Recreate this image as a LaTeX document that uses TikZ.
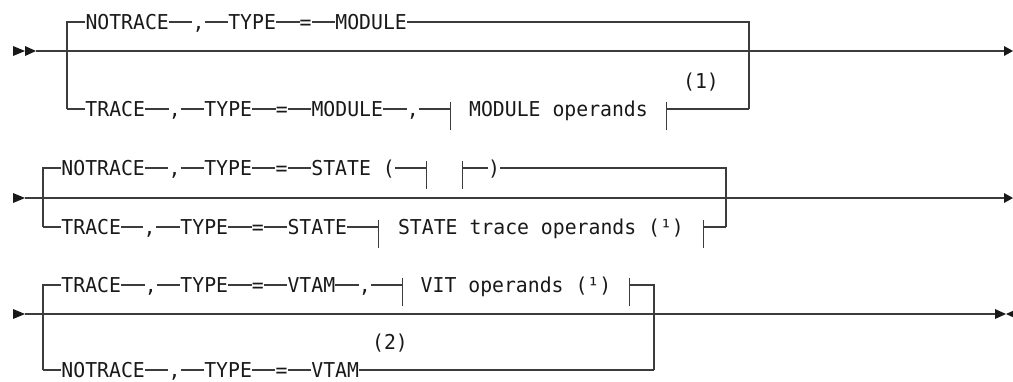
\documentclass[tikz,border=0pt]{standalone}
\usepackage{fontspec}
\usepackage{xcolor}
\usepackage{tikz}
\usetikzlibrary{positioning}
\newfontfamily\railfont[FakeStretch=0.965]{DejaVu Sans Mono}
\definecolor{railink}{RGB}{60,60,60}
\definecolor{kwink}{RGB}{25,25,25}
\tikzset{
  tok/.style={inner sep=0pt,text height=15pt,text depth=0pt,text=kwink},
  opbox/.style={tok,minimum width=#1},
  rail/.style={draw=railink,line width=1.1pt},
  head/.style={fill=kwink},
}

\begin{document}
\begin{tikzpicture}[x=1pt,y=-1pt,font=\railfont\fontsize{20.5}{24}\selectfont]
  \useasboundingbox (0,0) rectangle (1013,381);
  % main lines
  \coordinate (m1s) at (36,51);   \coordinate (m1e) at (1004,51);
  \coordinate (m2s) at (25,198);  \coordinate (m2e) at (1004,198);
  \coordinate (m3s) at (25,314);  \coordinate (m3e) at (995,314);
  \draw[rail] (m1s) -- (m1e);
  \draw[rail] (m2s) -- (m2e);
  \draw[rail] (m3s) -- (m3e);
  \fill[head] (13,46) -- (25,51) -- (13,56) -- cycle
              (25,46) -- (36,51) -- (25,56) -- cycle
              (1004,46) -- (1013,51) -- (1004,56) -- cycle;
  \fill[head] (13,193) -- (25,198) -- (13,203) -- cycle
              (1004,193) -- (1013,198) -- (1004,203) -- cycle;
  \fill[head] (13,309) -- (25,314) -- (13,319) -- cycle
              (995,309) -- (1006,314) -- (995,319) -- cycle
              (1017,309) -- (1006,314) -- (1017,319) -- cycle;

  % row 1
  \coordinate (l1t) at (67,22);  \coordinate (l1b) at (67,109);
  \coordinate (r1t) at (749,22); \coordinate (r1b) at (749,109);
  \foreach \n/\x/\t in {a1/127.2/NOTRACE, a2/198.6/{,}, a3/252.1/TYPE,
                        a4/305.7/{=}, a5/371.1/MODULE}
    \node[tok] (\n) at (\x,22) {\t};
  \foreach \n/\x/\t in {b1/115.25/TRACE, b2/174.75/{,}, b3/228.3/TYPE,
                        b4/281.9/{=}, b5/347.3/MODULE, b6/412.75/{,}}
    \node[tok] (\n) at (\x,109) {\t};
  \node[opbox=215pt] (bo) at (558.5,109) {MODULE operands};
  \node[tok] (n1) at (701,81) {(1)};
  \draw[rail] (l1b) -- (l1t) -- (a1) -- (a2) -- (a3) -- (a4) -- (a5) -- (r1t) -- (r1b);
  \draw[rail] (l1b) -- (b1) -- (b2) -- (b3) -- (b4) -- (b5) -- (b6) -- (bo) -- (r1b);

  % row 2
  \coordinate (l2t) at (43,168);  \coordinate (l2b) at (43,227);
  \coordinate (r2t) at (726,168); \coordinate (r2b) at (726,227);
  \foreach \n/\x/\t in {c1/103.15/NOTRACE, c2/174.55/{,}, c3/228.1/TYPE,
                        c4/281.65/{=}, c5/353.05/{STATE (}, c6/494/{)}}
    \node[tok] (\n) at (\x,168) {\t};
  \node[opbox=36pt] (co) at (444.7,168) {};
  \foreach \n/\x/\t in {d1/91.25/TRACE, d2/149.5/{,}, d3/204.3/TYPE,
                        d4/257.85/{=}, d5/317.35/STATE}
    \node[tok] (\n) at (\x,227) {\t};
  \node[opbox=324pt] (do) at (541,227) {STATE trace operands (¹)};
  \draw[rail] (l2b) -- (l2t) -- (c1) -- (c2) -- (c3) -- (c4) -- (c5) -- (co) -- (c6) -- (r2t) -- (r2b);
  \draw[rail] (l2b) -- (d1) -- (d2) -- (d3) -- (d4) -- (d5) -- (do) -- (r2b);

  % row 3
  \coordinate (l3t) at (43,285);  \coordinate (l3b) at (43,370);
  \coordinate (r3t) at (654,285); \coordinate (r3b) at (654,370);
  \foreach \n/\x/\t in {e1/91.25/TRACE, e2/150.75/{,}, e3/204.3/TYPE,
                        e4/257.85/{=}, e5/311.4/VTAM, e6/364.95/{,}}
    \node[tok] (\n) at (\x,285) {\t};
  \node[opbox=226pt] (eo) at (516,285) {VIT operands (¹)};
  \foreach \n/\x/\t in {f1/103.15/NOTRACE, f2/174.55/{,}, f3/228.1/TYPE,
                        f4/281.65/{=}, f5/335.2/VTAM}
    \node[tok] (\n) at (\x,370) {\t};
  \node[tok] (n2) at (390,342) {(2)};
  \draw[rail] (l3b) -- (l3t) -- (e1) -- (e2) -- (e3) -- (e4) -- (e5) -- (e6) -- (eo) -- (r3t) -- (r3b);
  \draw[rail] (l3b) -- (f1) -- (f2) -- (f3) -- (f4) -- (f5) -- (r3b);

  % fragment bars
  \foreach \o in {bo,co,do,eo}
    \draw[rail] ([yshift=7pt]\o.west) -- ([yshift=-21pt]\o.west)
                ([yshift=7pt]\o.east) -- ([yshift=-21pt]\o.east);
\end{tikzpicture}
\end{document}
